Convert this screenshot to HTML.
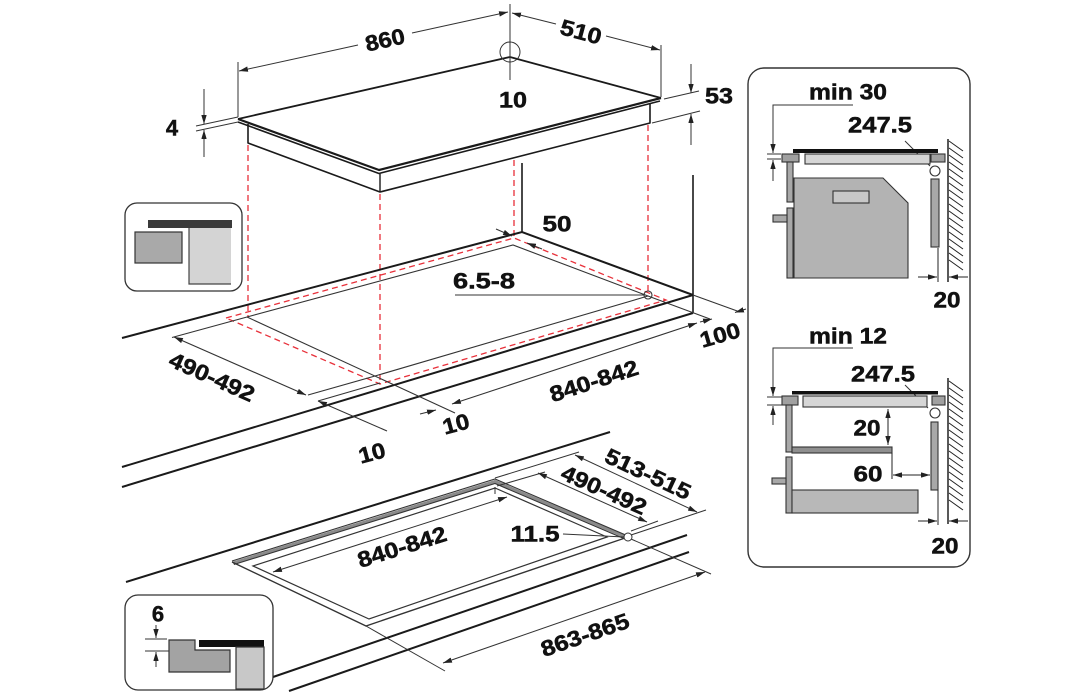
<!DOCTYPE html>
<html><head><meta charset="utf-8"><style>
html,body{margin:0;padding:0;background:#fff;}
svg{display:block;}
text{font-family:"Liberation Sans",sans-serif;font-weight:bold;font-size:22px;fill:#111;stroke:#111;stroke-width:0.5;text-anchor:middle;dominant-baseline:central;}
</style></head><body>
<svg width="1091" height="700" viewBox="0 0 1091 700" xmlns="http://www.w3.org/2000/svg">
<defs>
<marker id="a" viewBox="0 0 10 6" refX="10" refY="3" markerWidth="9" markerHeight="5.4" markerUnits="userSpaceOnUse" orient="auto-start-reverse"><path d="M0,0 L10,3 L0,6 z" fill="#222"/></marker>
</defs>

<!-- red dashed projections -->
<g stroke="#e8303a" stroke-width="1.3" stroke-dasharray="6,4" fill="none">
<line x1="248" y1="145" x2="248" y2="317"/>
<line x1="380" y1="194" x2="380" y2="383"/>
<line x1="514" y1="160" x2="514" y2="238"/>
<line x1="648" y1="125" x2="648" y2="291"/>
<path d="M226,318 L514,238 L666,300 L380,384 Z"/>
</g>

<!-- top hob -->
<g fill="none" stroke="#1a1a1a" stroke-linejoin="round">
<path d="M238,119 L510,57 L661,98" stroke-width="1.8"/>
<path d="M238,119 L379,170 L661,98" stroke-width="2.2"/>
<path d="M238,122 L379,173.5 L660,101" stroke-width="1.6"/>
<path d="M248,124 V143 L380,192 L650,123 V103" stroke-width="1.6"/>
<path d="M380,174 V192" stroke-width="1.4"/>
</g>

<!-- top dims -->
<g stroke="#333" stroke-width="1" fill="none">
<line x1="238" y1="117" x2="238" y2="62"/>
<path d="M239,71 L358,45" marker-start="url(#a)"/>
<path d="M412,33 L508,12" marker-end="url(#a)"/>
<path d="M512,13 L556,24" marker-start="url(#a)"/>
<path d="M606,36 L660,50" marker-end="url(#a)"/>
<line x1="661" y1="45" x2="661" y2="97"/>
<line x1="510" y1="4" x2="510" y2="80"/>
<circle cx="510" cy="52" r="10"/>
<path d="M204,89 V124" marker-end="url(#a)"/>
<path d="M204,157 V130" marker-end="url(#a)"/>
<line x1="196" y1="126" x2="238" y2="117"/>
<line x1="196" y1="131" x2="238" y2="122"/>
<path d="M691,64 V93" marker-end="url(#a)"/>
<path d="M691,145 V114" marker-end="url(#a)"/>
<line x1="664" y1="99" x2="699" y2="91"/>
<line x1="652" y1="123" x2="700" y2="111"/>
</g>

<!-- middle countertop -->
<g fill="none" stroke="#1a1a1a">
<line x1="522" y1="163" x2="522" y2="232" stroke-width="1.6"/>
<line x1="693" y1="175" x2="693" y2="313" stroke-width="1.6"/>
<path d="M122,338 L522,232 L693,295" stroke-width="2"/>
<path d="M122,467 L693,295" stroke-width="2"/>
<path d="M122,487 L693,313" stroke-width="2"/>
</g>
<g fill="none" stroke="#333" stroke-width="1.1">
<path d="M172,337.5 L247,317 L513,245 L648,296 L710,319"/>
<path d="M247,317 L455,413"/>
<path d="M308,395 L375,376 L648,296"/>
<path d="M693,295 L740,312"/>
<path d="M174,337 L306,395" marker-start="url(#a)" marker-end="url(#a)"/>
<path d="M452,404 L697,323" marker-start="url(#a)" marker-end="url(#a)"/>
<path d="M318,401 L387,431" marker-start="url(#a)"/>
<path d="M318,401 L380,383"/>
<path d="M420,414 L436,410" marker-end="url(#a)"/>
<path d="M700,322 L712,319" marker-end="url(#a)"/>
<path d="M746,309 L735,312.5" marker-end="url(#a)"/>
<line x1="455" y1="295" x2="644" y2="295"/>
<circle cx="648" cy="295" r="4"/>
<path d="M496,229 L512,236" marker-end="url(#a)"/>
<path d="M542,249 L527,243" marker-end="url(#a)"/>
</g>

<!-- bottom countertop -->
<g fill="none" stroke="#1a1a1a" stroke-width="2">
<path d="M126,582 L610,432"/>
<path d="M273,677 L687,535"/>
<path d="M289,691 L689,552"/>
</g>
<g fill="none" stroke="#333">
<path d="M233,563 L495,481.5 L627,537.5" stroke="#8a8a8a" stroke-width="3"/>
<path d="M232,561 L495,479 L628,536" stroke-width="1.1"/>
<path d="M234,564.5 L495,483.5 L625,539" stroke-width="1.1"/>
<path d="M232,562 L366,626 L628,537" stroke-width="1.4"/>
<path d="M253,566 L495,488 L607,537 L369,619 Z" stroke-width="1.2"/>
<path d="M273,572 L507,497" stroke-width="1" marker-start="url(#a)" marker-end="url(#a)"/>
<line x1="495" y1="487" x2="495" y2="494" stroke-width="1"/>
<line x1="563" y1="534" x2="624" y2="537" stroke-width="1"/>
<circle cx="628" cy="537" r="4" fill="#fff" stroke-width="1"/>
<line x1="495" y1="478" x2="579" y2="452" stroke-width="1"/>
<line x1="631" y1="535" x2="706" y2="510" stroke-width="1"/>
<path d="M575,455 L697,512" stroke-width="1" marker-start="url(#a)" marker-end="url(#a)"/>
<line x1="497" y1="486" x2="545" y2="472" stroke-width="1"/>
<line x1="631" y1="531" x2="658" y2="521" stroke-width="1"/>
<path d="M538,473 L647,522" stroke-width="1" marker-start="url(#a)" marker-end="url(#a)"/>
<line x1="631" y1="539" x2="711" y2="574" stroke-width="1"/>
<line x1="366" y1="626" x2="445" y2="671" stroke-width="1"/>
<path d="M443,663 L705,572" stroke-width="1" marker-start="url(#a)" marker-end="url(#a)"/>
</g>

<!-- inset 1 -->
<rect x="125" y="203" width="117" height="88" rx="12" fill="#fff" stroke="#333" stroke-width="1.3"/>
<rect x="148" y="220" width="84" height="8" fill="#3a3a3a"/>
<rect x="135" y="232" width="47" height="31" fill="#a9a9a9" stroke="#333" stroke-width="1.2"/>
<rect x="189" y="228" width="42" height="56" fill="#d4d4d4"/>
<path d="M189,228 V284 H231" fill="none" stroke="#444" stroke-width="1.2"/>

<!-- inset 2 -->
<rect x="125" y="595" width="148" height="95" rx="13" fill="#fff" stroke="#333" stroke-width="1.3"/>
<g stroke="#333" stroke-width="1" fill="none">
<path d="M156,625 V638" marker-end="url(#a)"/>
<path d="M156,667 V652" marker-end="url(#a)"/>
<line x1="145" y1="639" x2="167" y2="639"/>
<line x1="145" y1="651" x2="192" y2="651"/>
</g>
<path d="M169,640 H195 V650 H230 V672 H169 Z" fill="#a3a3a3" stroke="#333" stroke-width="1.2"/>
<rect x="199" y="640" width="65" height="7" fill="#111"/>
<rect x="236" y="647" width="28" height="42" fill="#c8c8c8" stroke="#333" stroke-width="1.2"/>

<!-- right panel -->
<rect x="748" y="68" width="222" height="499" rx="16" fill="#fff" stroke="#333" stroke-width="1.4"/>
<g stroke="#333" stroke-width="1" fill="none">
<path d="M853,105 H773 V153" marker-end="url(#a)"/>
<line x1="767" y1="154" x2="781" y2="154"/>
<line x1="767" y1="159" x2="781" y2="159"/>
<path d="M773,181 V160" marker-end="url(#a)"/>
<line x1="905" y1="141" x2="930" y2="166"/>
<path d="M853,348 H773 V396" marker-end="url(#a)"/>
<line x1="767" y1="397" x2="782" y2="397"/>
<line x1="767" y1="405" x2="782" y2="405"/>
<path d="M773,425 V406" marker-end="url(#a)"/>
<line x1="905" y1="385" x2="928" y2="408"/>
</g>
<g stroke="#333" stroke-width="1.1">
<rect x="793" y="149" width="145" height="4" fill="#111" stroke="none"/>
<rect x="782" y="154" width="17" height="8" fill="#a0a0a0"/>
<rect x="805" y="154" width="125" height="10" fill="#d6d6d6"/>
<rect x="931" y="154" width="14" height="8" fill="#a0a0a0"/>
<circle cx="935" cy="171" r="5" fill="#fff"/>
<rect x="787" y="162" width="6" height="40" fill="#a8a8a8"/>
<rect x="787" y="208" width="6" height="70" fill="#a8a8a8"/>
<rect x="773" y="215" width="14" height="7" fill="#a8a8a8"/>
<path d="M794,178 H883 L908,203 V278 H794 Z" fill="#b3b3b3"/>
<rect x="833" y="191" width="36" height="12" fill="#c8c8c8"/>
<rect x="931" y="179" width="8" height="68" fill="#a8a8a8"/>

<rect x="792" y="391" width="146" height="3.5" fill="#111" stroke="none"/>
<rect x="782" y="396" width="16" height="9" fill="#a0a0a0"/>
<rect x="803" y="396" width="124" height="11" fill="#d6d6d6"/>
<rect x="932" y="396" width="13" height="9" fill="#a0a0a0"/>
<circle cx="935" cy="413" r="5" fill="#fff"/>
<rect x="786" y="405" width="6" height="47" fill="#a8a8a8"/>
<rect x="792" y="447" width="100" height="6" fill="#8f8f8f"/>
<rect x="786" y="457" width="6" height="56" fill="#a8a8a8"/>
<rect x="772" y="478" width="14" height="6" fill="#a8a8a8"/>
<rect x="792" y="490" width="126" height="23" fill="#b8b8b8"/>
<rect x="931" y="422" width="7" height="68" fill="#a8a8a8"/>
</g>
<g stroke="#222" stroke-width="1" fill="none">
<line x1="948" y1="139" x2="948" y2="282" stroke-width="1.5"/>
<line x1="948" y1="378" x2="948" y2="524" stroke-width="1.5"/>
<path d="M949,141l14,10M949,148l14,10M949,155l14,10M949,162l14,10M949,169l14,10M949,176l14,10M949,183l14,10M949,190l14,10M949,197l14,10M949,204l14,10M949,211l14,10M949,218l14,10M949,225l14,10M949,232l14,10M949,239l14,10M949,246l14,10M949,253l14,10M949,260l14,10"/>
<path d="M949,381l14,10M949,388l14,10M949,395l14,10M949,402l14,10M949,409l14,10M949,416l14,10M949,423l14,10M949,430l14,10M949,437l14,10M949,444l14,10M949,451l14,10M949,458l14,10M949,465l14,10M949,472l14,10M949,479l14,10M949,486l14,10M949,493l14,10M949,500l14,10"/>
<line x1="938" y1="248" x2="938" y2="282"/>
<path d="M918,277 H937" marker-end="url(#a)"/>
<path d="M968,277 H949" marker-end="url(#a)"/>
<line x1="938" y1="490" x2="938" y2="525"/>
<path d="M918,521 H937" marker-end="url(#a)"/>
<path d="M968,521 H949" marker-end="url(#a)"/>
<path d="M888,409 V445" marker-start="url(#a)" marker-end="url(#a)"/>
<line x1="892" y1="453" x2="892" y2="479"/>
<path d="M893,475 H930" marker-start="url(#a)" marker-end="url(#a)"/>
</g>

<!-- labels -->
<text x="385" y="40" transform="rotate(-12.5 385 40)" textLength="40" lengthAdjust="spacingAndGlyphs">860</text>
<text x="581" y="32" transform="rotate(15 581 32)" textLength="42" lengthAdjust="spacingAndGlyphs">510</text>
<text x="513" y="100" textLength="28" lengthAdjust="spacingAndGlyphs">10</text>
<text x="172" y="128">4</text>
<text x="719" y="96" textLength="28" lengthAdjust="spacingAndGlyphs">53</text>
<text x="557" y="224" textLength="29" lengthAdjust="spacingAndGlyphs">50</text>
<text x="484" y="281" textLength="62" lengthAdjust="spacingAndGlyphs">6.5-8</text>
<text x="720" y="335" transform="rotate(-16 720 335)" textLength="41" lengthAdjust="spacingAndGlyphs">100</text>
<text x="594" y="381" transform="rotate(-18 594 381)" textLength="92" lengthAdjust="spacingAndGlyphs">840-842</text>
<text x="212" y="377" transform="rotate(24 212 377)" textLength="91" lengthAdjust="spacingAndGlyphs">490-492</text>
<text x="456" y="424" transform="rotate(-15 456 424)" textLength="27" lengthAdjust="spacingAndGlyphs">10</text>
<text x="372" y="453" transform="rotate(-15 372 453)" textLength="27" lengthAdjust="spacingAndGlyphs">10</text>
<text x="648" y="474" transform="rotate(25 648 474)" textLength="92" lengthAdjust="spacingAndGlyphs">513-515</text>
<text x="604" y="490" transform="rotate(24 604 490)" textLength="91" lengthAdjust="spacingAndGlyphs">490-492</text>
<text x="402" y="547" transform="rotate(-17.5 402 547)" textLength="92" lengthAdjust="spacingAndGlyphs">840-842</text>
<text x="535" y="534" textLength="49" lengthAdjust="spacingAndGlyphs">11.5</text>
<text x="585" y="635" transform="rotate(-19 585 635)" textLength="92" lengthAdjust="spacingAndGlyphs">863-865</text>
<text x="158" y="614">6</text>
<text x="848" y="92" textLength="78" lengthAdjust="spacingAndGlyphs">min 30</text>
<text x="880" y="125" textLength="64" lengthAdjust="spacingAndGlyphs">247.5</text>
<text x="947" y="300" textLength="27" lengthAdjust="spacingAndGlyphs">20</text>
<text x="848" y="336" textLength="78" lengthAdjust="spacingAndGlyphs">min 12</text>
<text x="883" y="374" textLength="64" lengthAdjust="spacingAndGlyphs">247.5</text>
<text x="867" y="428" textLength="27" lengthAdjust="spacingAndGlyphs">20</text>
<text x="868" y="474" textLength="29" lengthAdjust="spacingAndGlyphs">60</text>
<text x="945" y="546" textLength="27" lengthAdjust="spacingAndGlyphs">20</text>
</svg>
</body></html>
